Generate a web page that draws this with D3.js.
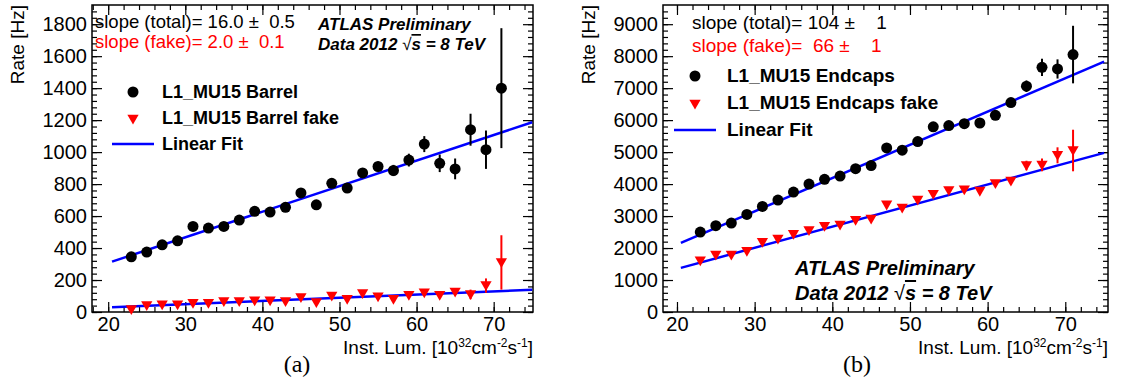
<!DOCTYPE html>
<html>
<head>
<meta charset="utf-8">
<script src="https://cdn.jsdelivr.net/npm/d3@7"></script>
<style>
  body { margin: 0; background: #fff; }
  svg { display: block; font-family: "Liberation Sans", Arial, sans-serif; }
</style>
</head>
<body>
<section></section>
<script>
// data
const lumi = [23, 25, 27, 29, 31, 33, 35, 37, 39, 41, 43, 45, 47, 49, 51, 53, 55, 57, 59, 61, 63, 65, 67, 69, 71];

const barrelRate = [345, 375, 420, 445, 535, 525, 535, 575, 630, 625, 655, 745, 670, 805, 775, 870, 910, 885, 950, 1050, 930, 895, 1140, 1015, 1400];
const barrelErr = [12, 12, 13, 13, 14, 14, 15, 15, 16, 17, 18, 20, 20, 25, 25, 30, 30, 35, 40, 50, 55, 65, 100, 120, 375];
const barrelFake = [15, 40, 45, 45, 55, 55, 65, 65, 70, 70, 65, 90, 60, 100, 80, 115, 95, 80, 105, 120, 105, 125, 110, 165, 310];
const barrelFakeErr = [4, 5, 5, 5, 6, 6, 6, 6, 7, 7, 7, 8, 8, 9, 9, 10, 10, 12, 14, 16, 18, 20, 30, 45, 170];

const endcapRate = [2500, 2700, 2780, 3050, 3300, 3500, 3750, 4000, 4150, 4250, 4480, 4580, 5130, 5060, 5330, 5790, 5830, 5890, 5910, 6150, 6550, 7060, 7650, 7600, 8050];
const endcapErr = [30, 30, 30, 35, 35, 40, 40, 45, 45, 50, 50, 55, 60, 60, 65, 70, 75, 80, 90, 100, 120, 180, 270, 300, 900];
const endcapFake = [1600, 1780, 1780, 1900, 2180, 2280, 2430, 2550, 2680, 2720, 2870, 2910, 3350, 3250, 3500, 3680, 3800, 3820, 3780, 4020, 4100, 4580, 4600, 4900, 5050];
const endcapFakeErr = [25, 25, 25, 30, 30, 30, 35, 35, 40, 40, 45, 45, 50, 50, 55, 60, 65, 70, 80, 90, 100, 150, 200, 250, 650];

// linear fits: [slope, intercept], drawn over the fit range
const barrelFit = [16.0, -13];
const barrelFakeFit = [2.0, -11];
const endcapFit = [104, 28];
const endcapFakeFit = [66, 27];
const fitRange = [20.5, 75];

const xTicks = [20, 30, 40, 50, 60, 70];
const barrelYTicks = [0, 200, 400, 600, 800, 1000, 1200, 1400, 1600, 1800];
const endcapYTicks = [0, 1000, 2000, 3000, 4000, 5000, 6000, 7000, 8000, 9000];

const svg = d3.select('section')
  .append('svg')
  .attr('width', 1121)
  .attr('height', 385);

const red = '#ff0000';
const blue = '#0000ff';

// one panel of the figure
const drawPanel = (p) => {
  const x = d3.scaleLinear().domain(p.xDomain).range([p.left, p.right]);
  const y = d3.scaleLinear().domain(p.yDomain).range([p.bottom, p.top]);
  const g = svg.append('g');

  // axes with ticks on all four sides, pointing inward
  const xMinor = d3.range(18, 76, 2).filter((v) => v >= p.xDomain[0] && v <= p.xDomain[1]);
  const yMinor = d3.range(0, p.yDomain[1], p.yMinorStep);
  const fmt = d3.format('d');

  const axisB = d3.axisBottom(x).tickValues(xTicks).tickSize(-10).tickPadding(5).tickFormat(fmt).tickSizeOuter(0);
  const axisT = d3.axisTop(x).tickValues(xTicks).tickSize(-10).tickFormat('').tickSizeOuter(0);
  const axisL = d3.axisLeft(y).tickValues(p.yTicks).tickSize(-10).tickPadding(5).tickFormat(fmt).tickSizeOuter(0);
  const axisR = d3.axisRight(y).tickValues(p.yTicks).tickSize(-10).tickFormat('').tickSizeOuter(0);

  const minorB = d3.axisBottom(x).tickValues(xMinor).tickSize(-5).tickFormat('').tickSizeOuter(0);
  const minorT = d3.axisTop(x).tickValues(xMinor).tickSize(-5).tickFormat('').tickSizeOuter(0);
  const minorL = d3.axisLeft(y).tickValues(yMinor).tickSize(-5).tickFormat('').tickSizeOuter(0);
  const minorR = d3.axisRight(y).tickValues(yMinor).tickSize(-5).tickFormat('').tickSizeOuter(0);

  const put = (axis, tx, ty) => g.append('g')
    .attr('transform', `translate(${tx}, ${ty})`)
    .call(axis)
    .call((s) => s.select('.domain').remove())
    .call((s) => s.selectAll('line').attr('stroke', '#000').attr('stroke-width', 1.2))
    .call((s) => s.selectAll('text').attr('font-size', 20).attr('fill', '#000').attr('font-family', '"Liberation Sans", Arial, sans-serif'));

  put(minorB, 0, p.bottom);
  put(minorT, 0, p.top);
  put(minorL, p.left, 0);
  put(minorR, p.right, 0);
  put(axisB, 0, p.bottom);
  put(axisT, 0, p.top);
  put(axisL, p.left, 0);
  put(axisR, p.right, 0);

  g.append('rect')
    .attr('x', p.left)
    .attr('y', p.top)
    .attr('width', p.right - p.left)
    .attr('height', p.bottom - p.top)
    .attr('fill', 'none')
    .attr('stroke', '#000')
    .attr('stroke-width', 1.5);

  // axis titles
  g.append('text')
    .attr('transform', `translate(${p.left - 68}, ${p.top}) rotate(-90)`)
    .attr('text-anchor', 'end')
    .attr('font-size', 19)
    .text('Rate [Hz]');

  const xl = g.append('text')
    .attr('x', p.right)
    .attr('y', p.bottom + 42)
    .attr('text-anchor', 'end')
    .attr('font-size', 19);
  xl.append('tspan').text('Inst. Lum. [10');
  xl.append('tspan').attr('font-size', 12).attr('dy', -7).text('32');
  xl.append('tspan').attr('dy', 7).text('cm');
  xl.append('tspan').attr('font-size', 12).attr('dy', -7).text('-2');
  xl.append('tspan').attr('dy', 7).text('s');
  xl.append('tspan').attr('font-size', 12).attr('dy', -7).text('-1');
  xl.append('tspan').attr('dy', 7).text(']');

  g.append('text')
    .attr('x', p.tagX)
    .attr('y', 372)
    .attr('text-anchor', 'middle')
    .attr('font-family', '"Liberation Serif", "Times New Roman", serif')
    .attr('font-size', 24)
    .text(p.tag);

  // fit lines
  const line = d3.line().x((d) => x(d[0])).y((d) => y(d[1]));
  [p.fit, p.fakeFit].forEach((f) => {
    g.append('path')
      .datum(fitRange.map((v) => [v, f[0] * v + f[1]]))
      .attr('d', line)
      .attr('fill', 'none')
      .attr('stroke', blue)
      .attr('stroke-width', 2.5);
  });

  // error bars
  const bars = (vals, errs, color) => {
    g.append('g')
      .selectAll('line')
      .data(lumi)
      .enter()
      .append('line')
      .attr('x1', (d) => x(d))
      .attr('x2', (d) => x(d))
      .attr('y1', (d, i) => y(vals[i] - errs[i]))
      .attr('y2', (d, i) => y(vals[i] + errs[i]))
      .attr('stroke', color)
      .attr('stroke-width', 2);
  };
  bars(p.rate, p.err, '#000');
  bars(p.fake, p.fakeErr, red);

  const tri = d3.symbol().type(d3.symbolTriangle).size(55);

  g.append('g')
    .selectAll('path')
    .data(lumi)
    .enter()
    .append('path')
    .attr('d', tri)
    .attr('transform', (d, i) => `translate(${x(d)}, ${y(p.fake[i]) - 1}) rotate(180)`)
    .attr('fill', red);

  g.append('g')
    .selectAll('circle')
    .data(lumi)
    .enter()
    .append('circle')
    .attr('cx', (d) => x(d))
    .attr('cy', (d, i) => y(p.rate[i]))
    .attr('r', 5.5)
    .attr('fill', '#000');

  // slope labels
  g.append('text')
    .attr('x', p.slopeX)
    .attr('y', p.slopeY)
    .attr('font-size', p.slopeSize)
    .style('white-space', 'pre')
    .text(p.slopeText);
  g.append('text')
    .attr('x', p.slopeX)
    .attr('y', p.slopeY + p.slopeGap)
    .attr('font-size', p.slopeSize)
    .attr('fill', red)
    .style('white-space', 'pre')
    .text(p.fakeSlopeText);

  // legend
  const lg = g.append('g').attr('transform', `translate(${p.legX}, ${p.legY})`);
  lg.append('circle').attr('cx', 0).attr('cy', 0).attr('r', 5.5).attr('fill', '#000');
  lg.append('path').attr('d', tri).attr('transform', `translate(0, ${p.legGap}) rotate(180)`).attr('fill', red);
  lg.append('line')
    .attr('x1', -21).attr('x2', 21)
    .attr('y1', 2 * p.legGap).attr('y2', 2 * p.legGap)
    .attr('stroke', blue).attr('stroke-width', 2.5);
  p.legText.forEach((t, i) => {
    lg.append('text')
      .attr('x', p.legTextX)
      .attr('y', i * p.legGap + 6)
      .attr('font-size', p.legSize)
      .attr('font-weight', 'bold')
      .text(t);
  });

  // ATLAS label
  const at = g.append('g')
    .attr('font-size', p.atlasSize)
    .attr('font-weight', 'bold')
    .attr('font-style', 'italic');
  at.append('text').attr('x', p.atlasX).attr('y', p.atlasY).text('ATLAS Preliminary');
  const dt = at.append('text').attr('x', p.atlasX).attr('y', p.atlasY + p.atlasGap);
  dt.append('tspan').text('Data 2012 ');
  dt.append('tspan').attr('font-weight', 'normal').attr('font-style', 'normal').text('√');
  dt.append('tspan').style('text-decoration', 'overline').text('s');
  dt.append('tspan').text(' = 8 TeV');
};

drawPanel({
  left: 92, right: 533, top: 5, bottom: 312,
  xDomain: [17.9, 75.1], yDomain: [0, 1920], yTicks: barrelYTicks, yMinorStep: 40,
  rate: barrelRate, err: barrelErr, fake: barrelFake, fakeErr: barrelFakeErr,
  fit: barrelFit, fakeFit: barrelFakeFit,
  slopeX: 95, slopeY: 28, slopeGap: 20, slopeSize: 18.5,
  slopeText: 'slope (total)= 16.0 \u00b1  0.5',
  fakeSlopeText: 'slope (fake)= 2.0 \u00b1  0.1',
  legX: 133, legY: 92, legGap: 26, legSize: 18, legTextX: 29,
  legText: ['L1_MU15 Barrel', 'L1_MU15 Barrel fake', 'Linear Fit'],
  atlasX: 318, atlasY: 30, atlasGap: 20, atlasSize: 17,
  tag: '(a)', tagX: 297
});

drawPanel({
  left: 663, right: 1108, top: 5, bottom: 312,
  xDomain: [18.2, 75.5], yDomain: [0, 9600], yTicks: endcapYTicks, yMinorStep: 200,
  rate: endcapRate, err: endcapErr, fake: endcapFake, fakeErr: endcapFakeErr,
  fit: endcapFit, fakeFit: endcapFakeFit,
  slopeX: 692, slopeY: 29, slopeGap: 23, slopeSize: 19,
  slopeText: 'slope (total)= 104 \u00b1    1',
  fakeSlopeText: 'slope (fake)=  66 \u00b1    1',
  legX: 695, legY: 76, legGap: 27, legSize: 19, legTextX: 32,
  legText: ['L1_MU15 Endcaps', 'L1_MU15 Endcaps fake', 'Linear Fit'],
  atlasX: 795, atlasY: 275, atlasGap: 25, atlasSize: 20,
  tag: '(b)', tagX: 857
});
</script>
</body>
</html>
